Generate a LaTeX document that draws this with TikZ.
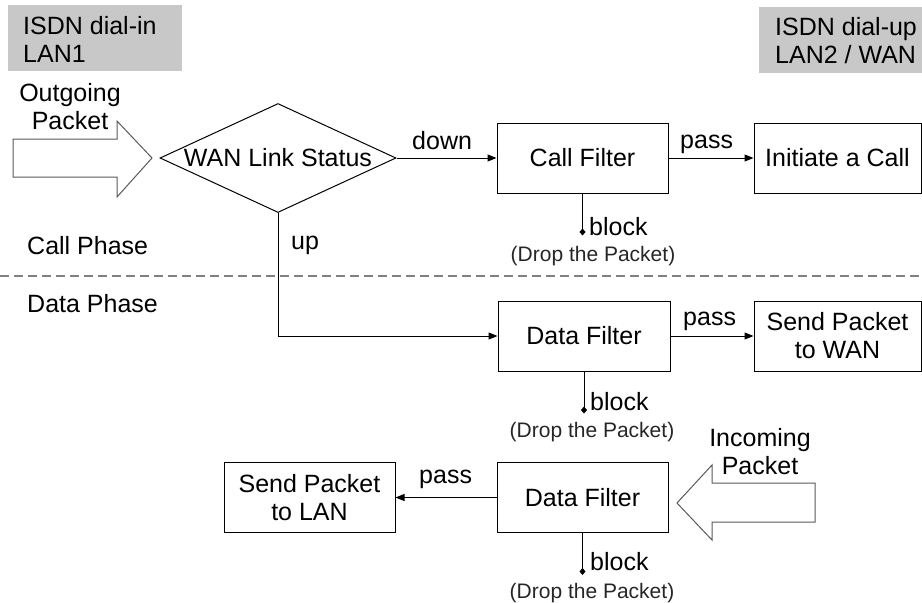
\documentclass[tikz,border=0pt]{standalone}
\usepackage{fontspec}
\setmainfont{Liberation Sans}
\usetikzlibrary{arrows.meta,shapes.geometric,calc}
\definecolor{panelgray}{RGB}{200,200,200}
\definecolor{arrowedge}{RGB}{90,90,90}
\definecolor{phaseline}{RGB}{128,128,128}

\begin{document}
\begin{tikzpicture}[x=1pt,y=-1pt,
  every node/.style={font=\fontsize{25}{28}\selectfont, inner sep=0pt},
  box/.style={draw, line width=1pt, minimum width=171pt, minimum height=70pt, align=center},
  flow/.style={line width=1pt, -{Triangle[length=9pt,width=7pt]}},
  blk/.style={line width=1pt, -{Diamond[length=7pt,width=6pt]}},
  lbl/.style={anchor=base west},
  drop/.style={anchor=base, font=\fontsize{21}{24}\selectfont, text=black!85},
  panel/.style={fill=panelgray, anchor=north west, minimum height=66pt},
  fat/.style={draw=arrowedge, line width=1pt, fill=white, line join=miter},
]
\useasboundingbox (0,0) rectangle (922,603);

% side panels (multi-line text is anchored on its last baseline)
\node[panel, minimum width=174pt] (lan1) at (8,5) {};
\node[lbl, align=left] (lan1txt) at (23,62) {ISDN dial-in\\LAN1};
\node[panel, minimum width=170pt] (lan2) at (759,7) {};
\node[lbl, align=left] (lan2txt) at (775,63) {ISDN dial-up\\LAN2 / WAN};

% phase separator
\draw[phaseline, line width=1.3pt, dash pattern=on 9pt off 5pt] (0,276) -- (922,276);
\node[lbl] (callph) at (27,254) {Call Phase};
\node[lbl] (dataph) at (27,312) {Data Phase};

% outgoing packet (block arrow)
\draw[fat] (13,139) -- (117,139) -- (117,121) -- (152,158) -- (117,197) -- (117,177) -- (13,177) -- cycle;
\node[align=center, anchor=base] (outtxt) at (70,129) {Outgoing\\Packet};

% incoming packet (block arrow)
\draw[fat] (815,483) -- (712,483) -- (712,465) -- (677,503) -- (712,540) -- (712,522) -- (815,522) -- cycle;
\node[align=center, anchor=base] (intxt) at (760,474) {Incoming\\Packet};

% decision and filters
\node[diamond, draw, line width=1pt, aspect=2.16, minimum width=236pt, minimum height=109pt] (wan) at (278,158) {WAN Link Status};
\node[box] (cf) at (582.5,158) {Call Filter};
\node[box, minimum width=167pt] (call) at (837.5,158) {Initiate a Call};
\node[box, minimum width=172pt] (df1) at (584,336) {Data Filter};
\node[box, minimum width=167pt] (wanout) at (837.5,336) {Send Packet\\to WAN};
\node[box] (df2) at (582.5,497.5) {Data Filter};
\node[box] (lanout) at (309.5,497.5) {Send Packet\\to LAN};

% connectors
\draw[flow] (wan.east) -- (cf.west);
\node[lbl] (down) at (412,149) {down};
\draw[flow] (cf.east) -- (call.west);
\node[lbl] (pass1) at (680,148) {pass};

\draw[flow] (wan.south) |- (df1.west);
\node[lbl] (up) at (291,249) {up};
\draw[flow] (df1.east) -- (wanout.west);
\node[lbl] (pass2) at (683,325) {pass};

\draw[flow] (df2.west) -- (lanout.east);
\node[lbl] (pass3) at (419,483) {pass};

% blocked packets
\coordinate (cfdrop) at ($(cf.south)+(0,42)$);
\draw[blk] (cf.south) -- (cfdrop);
\node[lbl] (blk1) at (589,235) {block};
\node[drop] (drop1) at (593,261) {(Drop the Packet)};

\coordinate (df1drop) at ($(df1.south)+(0,42)$);
\draw[blk] (df1.south) -- (df1drop);
\node[lbl] (blk2) at (590,410) {block};
\node[drop] (drop2) at (592,437) {(Drop the Packet)};

\coordinate (df2drop) at ($(df2.south)+(0,42)$);
\draw[blk] (df2.south) -- (df2drop);
\node[lbl] (blk3) at (590,570) {block};
\node[drop] (drop3) at (592,598) {(Drop the Packet)};
\end{tikzpicture}
\end{document}
